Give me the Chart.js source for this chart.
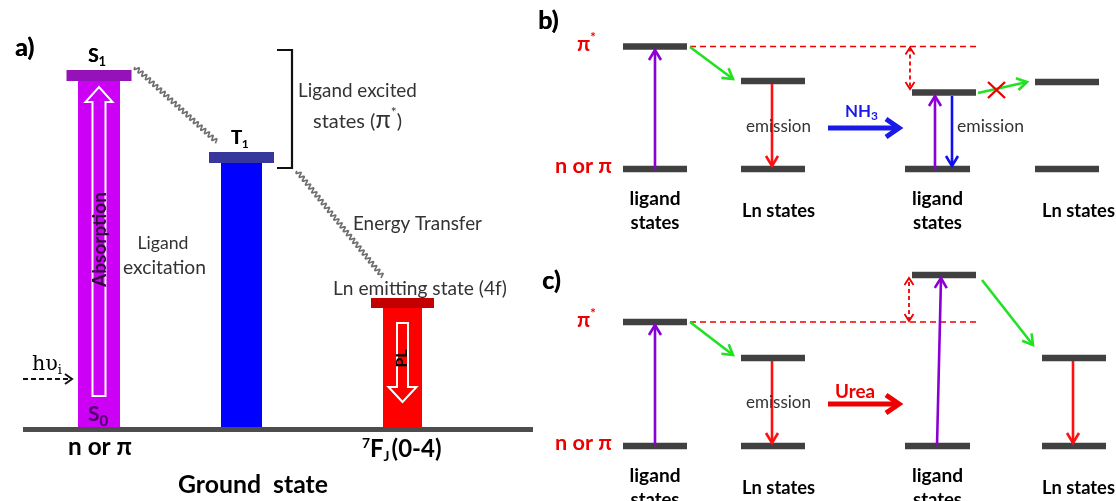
<!DOCTYPE html>
<html>
<head>
<meta charset="utf-8">
<script src="https://cdn.jsdelivr.net/npm/chart.js@4.4.1/dist/chart.umd.min.js"></script>
<style>
  html, body { margin: 0; padding: 0; background: #fff; overflow: hidden; }
  #wrap { width: 1116px; height: 501px; }
</style>
</head>
<body>
<div id="wrap"><canvas id="c" width="1116" height="501"></canvas></div>
<script>
// Diagram space: x 0..1116 left to right, y 0..501 top to bottom (higher energy = smaller y)
const W = 1116, H = 501;

// ---- Panel a: ligand singlet / triplet and Ln emitting state columns ----
const aStates   = ['S1', 'T1', 'Ln'];
const aCentre   = [99, 241.5, 402.5];        // column centre
const aLevel    = [75.5, 157.5, 303];        // excited level (cap centre)
const groundLevel = 429.5;                   // common ground state
const groundSpan  = [23, 533];

// hollow arrows inside columns: absorption (up) and PL (down)
const hollowColumn = [0, 2];
const hollowFrom   = [396, 323];
const hollowTo     = [87, 402];

// wavy non-radiative paths (ISC and energy transfer)
const waveX0 = [135, 297], waveY0 = [67, 171];
const waveX1 = [217, 383], waveY1 = [142, 277];

// ---- Panels b and c: ligand and Ln energy levels ----
const levelX0 = [623, 623, 741, 741, 912, 905, 1035, 1035,   623, 623, 741, 741, 912, 905, 1042, 1042];
const levelX1 = [687, 687, 805, 805, 976, 970, 1099, 1099,   687, 687, 805, 805, 976, 970, 1106, 1106];
const levelY  = [46.5, 169, 81, 169, 92.5, 169, 82, 169,     322, 446, 358, 446, 275, 446, 358, 446];

// transitions: kind -> colour/weight
const trX0 = [655, 690, 772, 935, 952, 978,   655, 690, 772, 937, 982, 1073];
const trY0 = [169, 47, 84, 169, 96, 93,        446, 322, 361, 446, 280, 361];
const trX1 = [655, 733, 772, 935, 952, 1027,  655, 733, 772, 941, 1033, 1073];
const trY1 = [50, 79, 166, 96, 166, 82,        325, 355, 443, 278, 345, 443];
const trKind = ['abs', 'et', 'em', 'abs', 'emB', 'et',  'abs', 'et', 'em', 'abs', 'et', 'em'];

// reference π* level (dashed) and its shift
const refY     = [46.5, 322];
const refSpan  = [690, 980];
const shiftX   = [910, 909];
const shiftTo  = [89, 278];

// analyte arrows
const analyte  = ['NH3', 'Urea'];
const analyteY = [128, 404];
const analyteX = [828, 899];

const COL = {
  level: '#404040', ground: '#4d4d4d',
  colA: ['#cc00f5', '#0000ff', '#ff0000'],
  capA: ['#9412b8', '#38389c', '#c20000'],
  abs: '#8a00d4', et: '#22e022', em: '#ff1010', emB: '#1010ee',
  red: '#ee0000', blue: '#1a1ae8', wave: '#6e6e6e', text: '#333333'
};
const COLW = [42, 41, 39], CAPW = [65, 65, 63], CAPH = [11, 11, 10];
const FONT = 'Lato, "Open Sans", sans-serif';

// ---- datasets built from the arrays ----
const datasets = [];
aStates.forEach((s, i) => {
  datasets.push({ label: s + ' level', order: 0,
    data: [{x: aCentre[i] - CAPW[i] / 2, y: aLevel[i]}, {x: aCentre[i] + CAPW[i] / 2, y: aLevel[i]}],
    borderColor: COL.capA[i], borderWidth: CAPH[i] });
  datasets.push({ label: s + ' column', order: 1,
    data: [{x: aCentre[i], y: aLevel[i]}, {x: aCentre[i], y: groundLevel - 2.5}],
    borderColor: COL.colA[i], borderWidth: COLW[i] });
});
datasets.push({ label: 'ground', order: 2,
  data: [{x: groundSpan[0], y: groundLevel}, {x: groundSpan[1], y: groundLevel}],
  borderColor: COL.ground, borderWidth: 5 });
levelY.forEach((y, i) => {
  datasets.push({ label: 'level ' + i, order: 0,
    data: [{x: levelX0[i], y}, {x: levelX1[i], y}],
    borderColor: COL.level, borderWidth: 6.5 });
});
datasets.forEach(d => Object.assign(d, {
  showLine: true, pointRadius: 0, pointHoverRadius: 0, fill: false, tension: 0,
  borderCapStyle: 'butt', clip: false
}));

// ---- drawing helpers ----
function fontOf(s, k) {
  return (s.b ? 'bold ' : '') + (s.s * k).toFixed(2) + 'px ' + (s.f || FONT);
}
function rich(ctx, segs, x, y, opt) {
  opt = opt || {};
  let k = 1;
  const measure = () => segs.reduce((w, s) => {
    ctx.font = fontOf(s, k); return w + ctx.measureText(s.t).width + (s.gap || 0);
  }, 0);
  let w = measure();
  if (opt.width) { k = opt.width / w; w = measure(); }
  let cx = opt.align === 'center' ? x - w / 2 : x;
  ctx.textBaseline = 'alphabetic';
  ctx.textAlign = 'left';
  for (const s of segs) {
    ctx.font = fontOf(s, k);
    ctx.fillStyle = s.c || opt.color || '#000';
    ctx.fillText(s.t, cx, y + (s.dy || 0));
    if (s.heavy) { ctx.fillText(s.t, cx + 0.6, y + (s.dy || 0)); }
    cx += ctx.measureText(s.t).width + (s.gap || 0);
  }
}
function head(ctx, x0, y0, x1, y1, len, half) {
  const a = Math.atan2(y1 - y0, x1 - x0), sp = Math.atan2(half, len), L = Math.hypot(len, half);
  ctx.beginPath();
  ctx.moveTo(x1 - L * Math.cos(a - sp), y1 - L * Math.sin(a - sp));
  ctx.lineTo(x1, y1);
  ctx.lineTo(x1 - L * Math.cos(a + sp), y1 - L * Math.sin(a + sp));
  ctx.stroke();
}
function arrow(ctx, x0, y0, x1, y1, o) {
  ctx.save();
  ctx.strokeStyle = o.color; ctx.lineWidth = o.width; ctx.lineCap = 'butt'; ctx.lineJoin = 'miter';
  if (o.dash) ctx.setLineDash(o.dash);
  ctx.beginPath(); ctx.moveTo(x0, y0); ctx.lineTo(x1, y1); ctx.stroke();
  ctx.setLineDash([]);
  head(ctx, x0, y0, x1, y1, o.len || 9, o.half || 5);
  if (o.both) head(ctx, x1, y1, x0, y0, o.len || 9, o.half || 5);
  ctx.restore();
}
function wave(ctx, x0, y0, x1, y1) {
  const L = Math.hypot(x1 - x0, y1 - y0), ux = (x1 - x0) / L, uy = (y1 - y0) / L;
  ctx.save();
  ctx.strokeStyle = COL.wave; ctx.lineWidth = 1.6;
  ctx.beginPath();
  for (let s = 0; s <= L; s += 0.5) {
    const off = 2.2 * Math.sin(2 * Math.PI * s / 5.0);
    const px = x0 + ux * s - uy * off, py = y0 + uy * s + ux * off;
    s === 0 ? ctx.moveTo(px, py) : ctx.lineTo(px, py);
  }
  ctx.stroke();
  ctx.restore();
}

const diagram = {
  id: 'diagram',
  afterDatasetsDraw(chart) {
    const ctx = chart.ctx;
    const X = v => chart.scales.x.getPixelForValue(v);
    const Y = v => chart.scales.y.getPixelForValue(v);

    // hollow arrows in columns
    hollowColumn.forEach((ci, i) => {
      const cx = X(aCentre[ci]), y0 = Y(hollowFrom[i]), y1 = Y(hollowTo[i]);
      const dir = Math.sign(y1 - y0), sw = i === 0 ? 6.5 : 5.5, hw = i === 0 ? 13.5 : 14, hl = 15;
      const yb = y1 - dir * hl;
      ctx.save();
      ctx.strokeStyle = '#ffffff'; ctx.lineWidth = 2; ctx.lineJoin = 'miter';
      ctx.beginPath();
      ctx.moveTo(cx - sw, y0); ctx.lineTo(cx - sw, yb); ctx.lineTo(cx - hw, yb);
      ctx.lineTo(cx, y1); ctx.lineTo(cx + hw, yb); ctx.lineTo(cx + sw, yb);
      ctx.lineTo(cx + sw, y0); ctx.closePath();
      ctx.stroke();
      ctx.restore();
    });

    // wavy paths
    waveX0.forEach((_, i) => wave(ctx, X(waveX0[i]), Y(waveY0[i]), X(waveX1[i]), Y(waveY1[i])));

    // bracket around ligand excited states
    ctx.save();
    ctx.strokeStyle = '#111'; ctx.lineWidth = 2.2;
    ctx.beginPath();
    ctx.moveTo(X(277), Y(50)); ctx.lineTo(X(292), Y(50)); ctx.lineTo(X(292), Y(168)); ctx.lineTo(X(277), Y(168));
    ctx.stroke();
    ctx.restore();

    // incident light
    arrow(ctx, X(23), Y(379), X(72), Y(379), {color: '#111', width: 2, dash: [5, 3], len: 7, half: 5});

    // dashed π* reference and shift arrows
    refY.forEach((ry, i) => {
      ctx.save();
      ctx.strokeStyle = COL.red; ctx.lineWidth = 1.4; ctx.setLineDash([6, 4]);
      ctx.beginPath(); ctx.moveTo(X(refSpan[0]), Y(ry)); ctx.lineTo(X(refSpan[1]), Y(ry)); ctx.stroke();
      ctx.restore();
      arrow(ctx, X(shiftX[i]), Y(ry + (i === 0 ? 1 : -1)), X(shiftX[i]), Y(shiftTo[i]),
        {color: COL.red, width: 1.8, dash: [4, 3], len: 7, half: 4.5, both: true});
    });

    // transitions
    trKind.forEach((k, i) => {
      arrow(ctx, X(trX0[i]), Y(trY0[i]), X(trX1[i]), Y(trY1[i]),
        {color: COL[k], width: 2.6, len: 10, half: 6});
    });

    // blocked transfer cross
    ctx.save();
    ctx.strokeStyle = COL.red; ctx.lineWidth = 2.4;
    ctx.beginPath();
    ctx.moveTo(X(988), Y(82)); ctx.lineTo(X(1005), Y(98));
    ctx.moveTo(X(988), Y(98)); ctx.lineTo(X(1005), Y(82));
    ctx.stroke();
    ctx.restore();

    // analyte arrows
    analyte.forEach((a, i) => {
      arrow(ctx, X(analyteX[0]), Y(analyteY[i]), X(analyteX[1]), Y(analyteY[i]),
        {color: i === 0 ? COL.blue : COL.red, width: 5, len: 13, half: 9});
    });

    // ---- text ----
    const B = (t, s, c, extra) => Object.assign({t, s, b: true, c}, extra || {});
    const N = (t, s, c, extra) => Object.assign({t, s, b: false, c}, extra || {});
    const k = '#000', g = COL.text;

    rich(ctx, [B('a)', 25, k, {heavy: true})], X(15), Y(56));
    rich(ctx, [B('b)', 25, k, {heavy: true})], X(538), Y(29));
    rich(ctx, [B('c)', 25, k, {heavy: true})], X(542), Y(289));

    rich(ctx, [B('S', 19, k, {heavy: true}), B('1', 13, k, {dy: 4})], X(88), Y(62));
    rich(ctx, [B('T', 18, k, {heavy: true}), B('1', 12, k, {dy: 4})], X(231), Y(144));
    rich(ctx, [B('S', 21, '#4a0066'), B('0', 15, '#4a0066', {dy: 5})], X(88), Y(421));

    rich(ctx, [N('hυ', 19, k, {f: '"DejaVu Serif", serif'}), N('i', 12, k, {dy: 4, f: '"DejaVu Serif", serif'})], X(32), Y(370), {width: 30});

    rich(ctx, [N('Ligand', 17, g)], X(163), Y(249), {align: 'center', width: 51});
    rich(ctx, [N('excitation', 17, g)], X(164.5), Y(274), {align: 'center', width: 83});

    rich(ctx, [N('Ligand excited', 17, g)], X(298), Y(97), {width: 119});
    rich(ctx, [N('states (', 17, g), N('π', 21, g), N('*', 12, g, {dy: -11}), N(')', 17, g)], X(313), Y(128), {width: 89});
    rich(ctx, [N('Energy Transfer', 17, g)], X(353), Y(230), {width: 129});
    rich(ctx, [N('Ln emitting state (4f)', 17, g)], X(333), Y(295), {width: 174});

    rich(ctx, [B('n or π', 20, k)], X(68), Y(455), {width: 64});
    rich(ctx, [B('Ground  state', 21, k)], X(178), Y(493), {width: 150});
    rich(ctx, [B('7', 11, k, {dy: -9}), B('F', 19, k), B('J', 11, k, {dy: 4, gap: 2}), B('(0-4)', 19, k)], X(362), Y(457), {width: 80});

    // rotated column captions
    ctx.save();
    ctx.translate(X(100), Y(239.5)); ctx.rotate(-Math.PI / 2);
    rich(ctx, [B('Absorption', 16, '#30083a')], 0, 5.5, {align: 'center', width: 95});
    ctx.restore();
    ctx.save();
    ctx.translate(X(401.5), Y(358.5)); ctx.rotate(-Math.PI / 2);
    rich(ctx, [B('PL', 15, k)], 0, 5.5, {align: 'center', width: 18});
    ctx.restore();

    // panels b and c
    [0, 1].forEach(p => {
      const up = p === 0 ? refY[0] : refY[1];
      const lo = p === 0 ? 169 : 446;
      rich(ctx, [B('π', 21, COL.red), B('*', 13, COL.red, {dy: -9})], X(577), Y(up + 4.5));
      rich(ctx, [B('n or π', 20, COL.red)], X(555), Y(lo + 3.5), {width: 57});
      rich(ctx, [N('emission', 16, g)], X(778.5), Y(p === 0 ? 132 : 408), {align: 'center', width: 65});
      rich(ctx, [B('ligand', 17, k)], X(655), Y(lo + 35.5), {align: 'center', width: 51});
      rich(ctx, [B('states', 17, k)], X(655), Y(lo + 60), {align: 'center', width: 49});
      rich(ctx, [B('Ln states', 17, k)], X(778.5), Y(lo + 47.5), {align: 'center', width: 73});
      rich(ctx, [B('ligand', 17, k)], X(937.5), Y(lo + 35.5), {align: 'center', width: 51});
      rich(ctx, [B('states', 17, k)], X(937.5), Y(lo + 60), {align: 'center', width: 49});
      rich(ctx, [B('Ln states', 17, k)], X(1042), Y(lo + 47.5), {width: 73});
    });
    rich(ctx, [N('emission', 16, g)], X(957), Y(132), {width: 67});
    rich(ctx, [B('NH', 17, COL.blue), B('3', 12, COL.blue, {dy: 3})], X(845), Y(117), {width: 33});
    rich(ctx, [B('Urea', 17, COL.red)], X(835), Y(398), {width: 40});
  }
};

new Chart(document.getElementById('c'), {
  type: 'scatter',
  data: { datasets },
  options: {
    responsive: false,
    animation: false,
    devicePixelRatio: 1,
    events: [],
    layout: { padding: 0 },
    scales: {
      x: { type: 'linear', min: 0, max: W, display: false },
      y: { type: 'linear', min: 0, max: H, reverse: true, display: false }
    },
    plugins: { legend: { display: false }, tooltip: { enabled: false } }
  },
  plugins: [diagram]
});
</script>
</body>
</html>
